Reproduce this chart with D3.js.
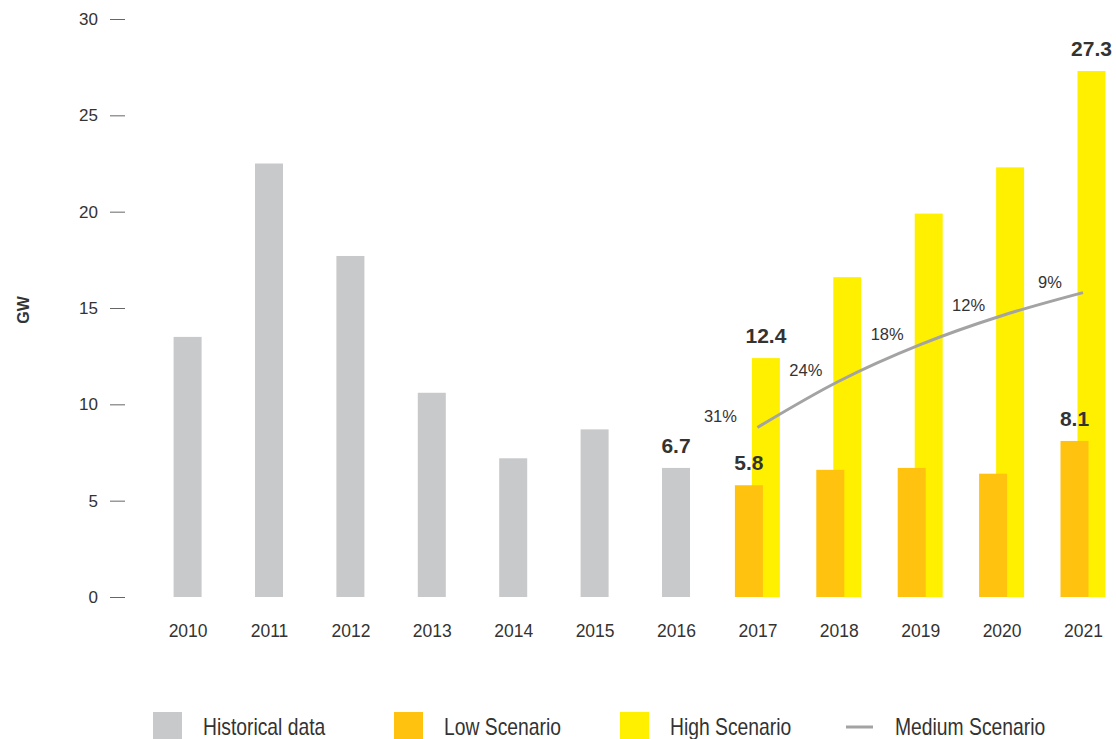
<!DOCTYPE html>
<html>
<head>
<meta charset="utf-8">
<script src="https://cdn.jsdelivr.net/npm/d3@7"></script>
<style>
  body { margin: 0; background: #fff; }
  text { font-family: "Liberation Sans", Arial, sans-serif; fill: #333; }
</style>
</head>
<body>
<div id="chart"></div>
<script>
// values (GW)
var years = ["2010","2011","2012","2013","2014","2015","2016","2017","2018","2019","2020","2021"];
var histYears = ["2010","2011","2012","2013","2014","2015","2016"];
var historical = [13.5, 22.5, 17.7, 10.6, 7.2, 8.7, 6.7];
var scenYears = ["2017","2018","2019","2020","2021"];
var lowScenario = [5.8, 6.6, 6.7, 6.4, 8.1];
var highScenario = [12.4, 16.6, 19.9, 22.3, 27.3];
var mediumScenario = [8.8, 11.2, 13.1, 14.6, 15.8];
var growthLabels = ["31%", "24%", "18%", "12%", "9%"];
var labelledYears = ["2016", "2017", "2021"];
var yTicks = [0, 5, 10, 15, 20, 25, 30];
var legendItems = ["Historical data", "Low Scenario", "High Scenario", "Medium Scenario"];

var colors = {hist: "#c8c9cb", low: "#ffc20e", high: "#fff000", med: "#a3a3a3"};

var width = 1116, height = 739;
var barW = 28, shift = 8.5;

var svg = d3.select("#chart").append("svg")
    .attr("width", width)
    .attr("height", height);

var x = d3.scalePoint()
    .domain(years)
    .range([146.9, 1123.7])
    .padding(0.5);

var y = d3.scaleLinear()
    .domain([0, 30])
    .range([597, 19]);

// y axis: short dashes, no line
var yAxis = svg.append("g")
    .attr("transform", "translate(125,0)")
    .call(d3.axisLeft(y).tickValues(yTicks).tickSize(15).tickPadding(12));
yAxis.select(".domain").remove();
yAxis.selectAll(".tick line").attr("stroke", "#666");
yAxis.selectAll(".tick text")
    .style("font-size", "17px")
    .style("font-family", "Liberation Sans, Arial, sans-serif")
    .attr("fill", "#333");

svg.append("text")
    .attr("transform", "translate(29,310) rotate(-90)")
    .attr("text-anchor", "middle")
    .style("font-size", "16px")
    .style("font-weight", "bold")
    .text("GW");

// x axis labels
var xAxis = svg.append("g")
    .attr("transform", "translate(0,597)")
    .call(d3.axisBottom(x).tickSize(0).tickPadding(28));
xAxis.select(".domain").remove();
xAxis.selectAll(".tick text")
    .style("font-size", "17.5px")
    .style("font-family", "Liberation Sans, Arial, sans-serif")
    .attr("fill", "#333");

// historical bars
svg.append("g").selectAll("rect")
    .data(histYears)
    .join("rect")
    .attr("x", function(d) { return x(d) - barW / 2; })
    .attr("y", function(d, i) { return y(historical[i]); })
    .attr("width", barW)
    .attr("height", function(d, i) { return y(0) - y(historical[i]); })
    .attr("fill", colors.hist);

// high scenario behind, low scenario in front
svg.append("g").selectAll("rect")
    .data(scenYears)
    .join("rect")
    .attr("x", function(d) { return x(d) + shift - barW / 2; })
    .attr("y", function(d, i) { return y(highScenario[i]); })
    .attr("width", barW)
    .attr("height", function(d, i) { return y(0) - y(highScenario[i]); })
    .attr("fill", colors.high);

svg.append("g").selectAll("rect")
    .data(scenYears)
    .join("rect")
    .attr("x", function(d) { return x(d) - shift - barW / 2; })
    .attr("y", function(d, i) { return y(lowScenario[i]); })
    .attr("width", barW)
    .attr("height", function(d, i) { return y(0) - y(lowScenario[i]); })
    .attr("fill", colors.low);

// medium scenario line
var line = d3.line()
    .x(function(d, i) { return x(scenYears[i]); })
    .y(function(d) { return y(d); })
    .curve(d3.curveMonotoneX);

svg.append("path")
    .datum(mediumScenario)
    .attr("fill", "none")
    .attr("stroke", colors.med)
    .attr("stroke-width", 3)
    .attr("d", line);

svg.append("g").selectAll("text")
    .data(growthLabels)
    .join("text")
    .attr("x", function(d, i) { return x(scenYears[i]) - (i == 0 ? 37 : 33); })
    .attr("y", function(d, i) { return y(mediumScenario[i]) - 5; })
    .attr("text-anchor", "middle")
    .style("font-size", "16.5px")
    .text(function(d) { return d; });

// value labels on selected bars
var valueLabels = [];
histYears.forEach(function(yr, i) {
    if (labelledYears.indexOf(yr) >= 0) valueLabels.push({x: x(yr), v: historical[i]});
});
scenYears.forEach(function(yr, i) {
    if (labelledYears.indexOf(yr) >= 0) {
        valueLabels.push({x: x(yr) - shift, v: lowScenario[i]});
        valueLabels.push({x: x(yr) + shift, v: highScenario[i]});
    }
});

svg.append("g").selectAll("text")
    .data(valueLabels)
    .join("text")
    .attr("x", function(d) { return d.x; })
    .attr("y", function(d) { return y(d.v) - 15; })
    .attr("text-anchor", "middle")
    .style("font-size", "21px")
    .style("font-weight", "bold")
    .text(function(d) { return d.v.toFixed(1); });

// legend (narrow type in the original, so squeeze it a bit)
var legendX = [153, 394, 620, 846];
var legend = svg.append("g").attr("class", "legend");
var swatchColors = [colors.hist, colors.low, colors.high];
legendItems.forEach(function(name, i) {
    if (i < 3) {
        legend.append("rect")
            .attr("x", legendX[i])
            .attr("y", 712)
            .attr("width", 29)
            .attr("height", 30)
            .attr("fill", swatchColors[i]);
    } else {
        legend.append("line")
            .attr("x1", legendX[i]).attr("x2", legendX[i] + 27)
            .attr("y1", 727).attr("y2", 727)
            .attr("stroke", colors.med)
            .attr("stroke-width", 3);
    }
    legend.append("text")
        .attr("transform", "translate(" + (legendX[i] + (i < 3 ? 50 : 49)) + ",735) scale(0.84,1)")
        .style("font-size", "23px")
        .text(name);
});
</script>
</body>
</html>
